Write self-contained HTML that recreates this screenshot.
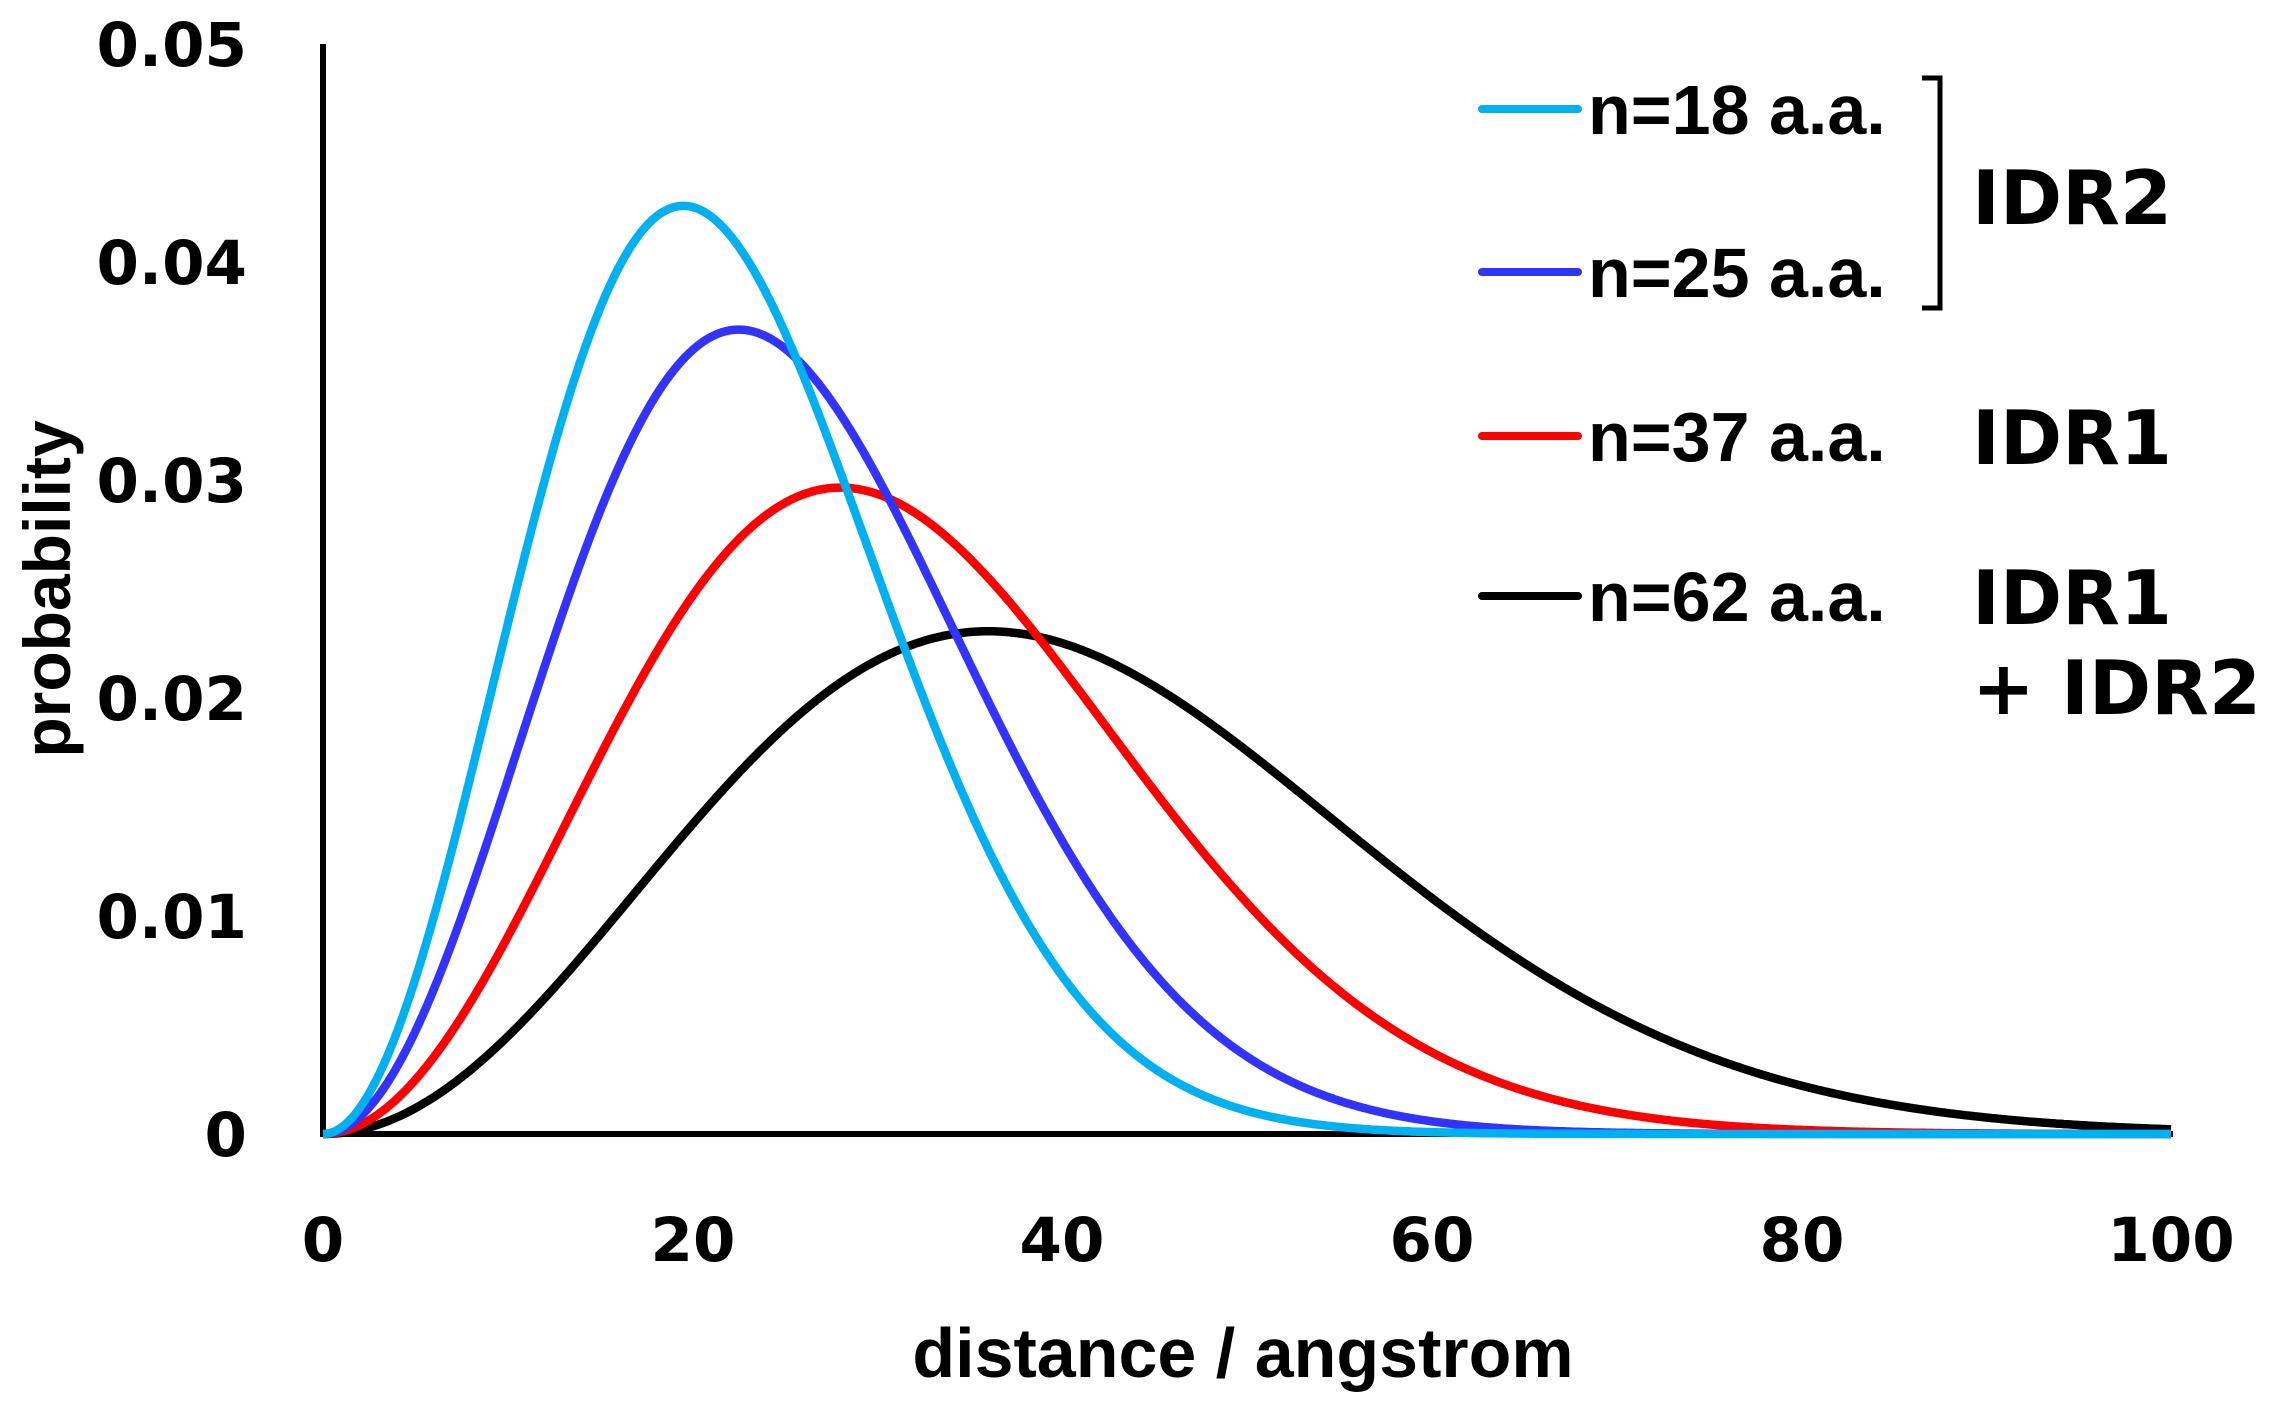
<!DOCTYPE html>
<html><head><meta charset="utf-8"><style>
html,body{margin:0;padding:0;background:#fff;}
svg{display:block;}
.t{font-family:"DejaVu Sans","Liberation Sans",sans-serif;font-weight:bold;fill:#000;}
.l{font-family:"Liberation Sans","DejaVu Sans",sans-serif;font-weight:bold;fill:#000;}
</style></head><body>
<svg id="s" width="2280" height="1409" viewBox="0 0 2280 1409" xmlns="http://www.w3.org/2000/svg">
<line x1="323" y1="44" x2="323" y2="1137" stroke="#000" stroke-width="6"/>
<line x1="320" y1="1134" x2="2173" y2="1134" stroke="#000" stroke-width="6"/>
<g class="t" font-size="61" text-anchor="end">
<text x="247" y="1156">0</text>
<text x="247" y="938">0.01</text>
<text x="247" y="720">0.02</text>
<text x="247" y="502">0.03</text>
<text x="247" y="284">0.04</text>
<text x="247" y="66">0.05</text>
</g>
<g class="t" font-size="61" text-anchor="middle">
<text x="323" y="1261">0</text>
<text x="693" y="1261">20</text>
<text x="1062" y="1261">40</text>
<text x="1432" y="1261">60</text>
<text x="1802" y="1261">80</text>
<text x="2171" y="1261">100</text>
</g>
<text class="l" font-size="70" x="1243" y="1377" text-anchor="middle">distance / angstrom</text>
<text class="l" font-size="66" transform="translate(70,589) rotate(-90)" text-anchor="middle">probability</text>
<g id="curves" fill="none" stroke-width="8.5" stroke-linejoin="round"></g>
<g stroke-width="8" stroke-linecap="round">
<line x1="1482" y1="109" x2="1578" y2="109" stroke="#00b0f0"/>
<line x1="1482" y1="272" x2="1578" y2="272" stroke="#3333ff"/>
<line x1="1482" y1="436" x2="1578" y2="436" stroke="#ff0000"/>
<line x1="1482" y1="596" x2="1578" y2="596" stroke="#000"/>
</g>
<g class="l" font-size="70">
<text x="1588" y="134">n=18 a.a.</text>
<text x="1588" y="297">n=25 a.a.</text>
<text x="1588" y="461">n=37 a.a.</text>
<text x="1588" y="621">n=62 a.a.</text>
</g>
<g class="t" font-size="75">
<text x="1972" y="224">IDR2</text>
<text x="1972" y="464">IDR1</text>
<text x="1972" y="624">IDR1</text>
<text x="1972" y="714">+ IDR2</text>
</g>
<polyline points="1922,78 1940,78 1940,308 1922,308" fill="none" stroke="#000" stroke-width="5"/>
</svg>
<script>
var g=document.getElementById('curves');
var cs=[[36,'#000'],[28,'#ff0000'],[22.5,'#3333ff'],[19.5,'#00b0f0']];
cs.forEach(function(c){
 var rp=c[0],d='';
 for(var i=0;i<=1000;i++){
  var r=i*0.1,u=r/rp;
  var p=4/Math.sqrt(Math.PI)/rp*u*u*Math.exp(-u*u);
  var x=323+r*18.48,y=1134-p*21800;
  d+=(i?'L':'M')+x.toFixed(1)+' '+y.toFixed(1);
 }
 var e=document.createElementNS('http://www.w3.org/2000/svg','path');
 e.setAttribute('d',d);e.setAttribute('stroke',c[1]);g.appendChild(e);
});
</script>
</body></html>
